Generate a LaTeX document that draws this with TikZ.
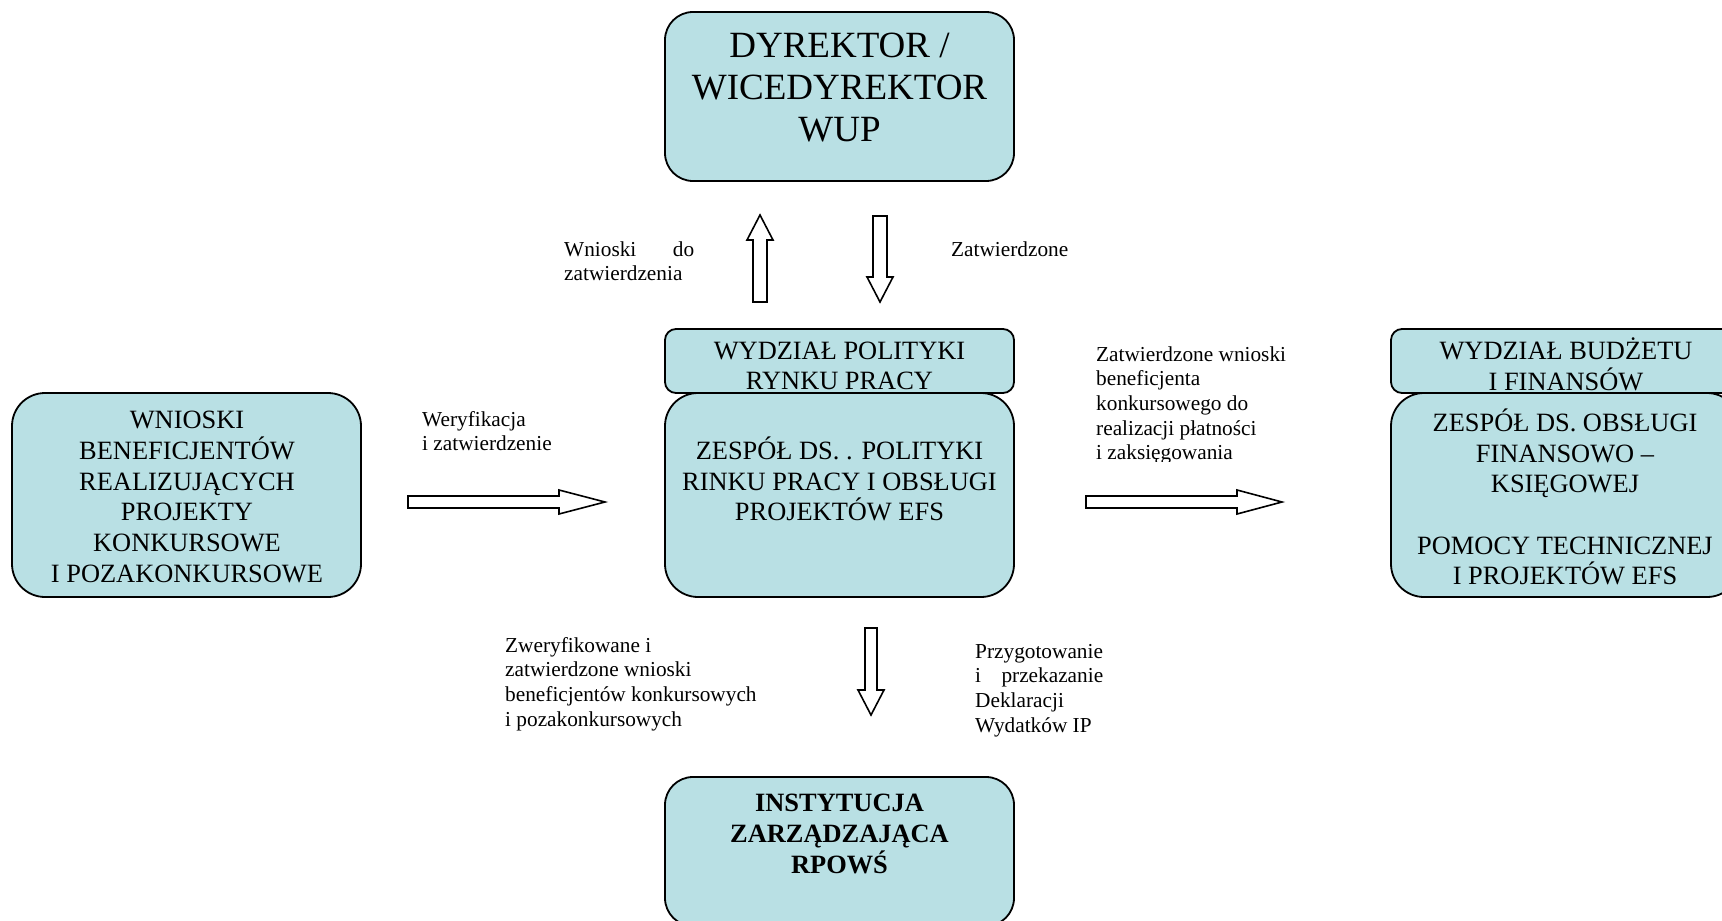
\documentclass[tikz,border=0pt]{standalone}
\usepackage{fontspec}
\setmainfont{Liberation Serif}
\definecolor{boxfill}{RGB}{185,224,228}
\tikzset{
  box/.style={draw=black, fill=boxfill, line width=1.8pt, inner sep=0pt, rectangle},
  boxtext/.style={align=center, inner sep=0pt, font=\fontsize{26.4}{30.7}\selectfont},
  bigtext/.style={align=center, inner sep=0pt, font=\fontsize{37}{42}\selectfont},
  lbl/.style={inner sep=0pt, anchor=base west, font=\fontsize{21.3}{24.7}\selectfont},
  blockarrow/.style={draw=black, fill=white, line width=1.6pt, line join=miter},
}
\begin{document}
\begin{tikzpicture}[x=1pt,y=-1pt]
\useasboundingbox (0,0) rectangle (1722,921);
\fill[white] (0,0) rectangle (1722,921);
\clip (0,0) rectangle (1722,921);

% boxes
\node[box, minimum width=349pt, minimum height=169pt, rounded corners=28pt] (dir) at (839.5,96.5) {};
\node[box, minimum width=349pt, minimum height=64pt, rounded corners=11pt] (wpr) at (839.5,361) {};
\node[box, minimum width=349pt, minimum height=204pt, rounded corners=33pt] (zpr) at (839.5,495) {};
\node[box, minimum width=349pt, minimum height=204pt, rounded corners=33pt] (wnio) at (186.5,495) {};
\node[box, minimum width=349pt, minimum height=64pt, rounded corners=11pt] (wbf) at (1565.5,361) {};
\node[box, minimum width=349pt, minimum height=204pt, rounded corners=33pt] (zfk) at (1565.5,495) {};
\node[box, minimum width=349pt, minimum height=149pt, rounded corners=28pt] (iz) at (839.5,851.5) {};

% box texts
\node[bigtext] (tdir) at (839.5,88) {DYREKTOR /\\WICEDYREKTOR\\WUP};
\node[boxtext] (twpr) at (839.5,366) {WYDZIAŁ POLITYKI\\RYNKU PRACY};
\node[boxtext] (tzpr) at (839.5,479) {ZESPÓŁ DS. . POLITYKI\\RINKU PRACY I OBSŁUGI\\PROJEKTÓW EFS};
\node[boxtext] (twnio) at (187,497) {WNIOSKI\\BENEFICJENTÓW\\REALIZUJĄCYCH\\PROJEKTY\\KONKURSOWE\\I POZAKONKURSOWE};
\node[boxtext] (twbf) at (1566,364) {WYDZIAŁ BUDŻETU\\I FINANSÓW};
\node[boxtext] (tzfk) at (1565,497) {ZESPÓŁ DS. OBSŁUGI\\FINANSOWO –\\KSIĘGOWEJ\\[30.7pt]POMOCY TECHNICZNEJ\\I PROJEKTÓW EFS};
\node[boxtext, font=\fontsize{26.4}{30.7}\selectfont\bfseries] (tiz) at (839.5,834) {INSTYTUCJA\\ZARZĄDZAJĄCA\\RPOWŚ};

% block arrows
\draw[blockarrow] (753,302) -- (753,240) -- (747,240) -- (760,215) -- (773,240) -- (767,240) -- (767,302) -- cycle;
\draw[blockarrow] (873,216) -- (887,216) -- (887,277) -- (893,277) -- (880,302) -- (867,277) -- (873,277) -- cycle;
\draw[blockarrow] (408,496) -- (559,496) -- (559,490) -- (605,502) -- (559,514) -- (559,508) -- (408,508) -- cycle;
\draw[blockarrow] (1086,496) -- (1237,496) -- (1237,490) -- (1282,502) -- (1237,514) -- (1237,508) -- (1086,508) -- cycle;
\draw[blockarrow] (865,628) -- (877,628) -- (877,690) -- (884,690) -- (871,715) -- (858,690) -- (865,690) -- cycle;

% labels
\node[lbl] (lwn) at (564,256) {\parbox[t]{130pt}{Wnioski\hfill do\\zatwierdzenia}};
\node[lbl] (lzat) at (951,256) {Zatwierdzone};
\node[lbl] (lwer) at (422,426) {\parbox[t]{160pt}{Weryfikacja\\i zatwierdzenie}};
\begin{scope}
  \clip (1090,330) rectangle (1320,461);
  \node[lbl] (lzw) at (1096,361) {\parbox[t]{220pt}{Zatwierdzone wnioski\\beneficjenta\\konkursowego do\\realizacji płatności\\i zaksięgowania}};
\end{scope}
\node[lbl] (lzwe) at (505,652) {\parbox[t]{280pt}{Zweryfikowane i\\zatwierdzone wnioski\\beneficjentów konkursowych\\i pozakonkursowych}};
\node[lbl] (lprz) at (975,658) {\parbox[t]{128pt}{Przygotowanie\\i\hfill przekazanie\\Deklaracji\\Wydatków IP}};
\end{tikzpicture}
\end{document}
